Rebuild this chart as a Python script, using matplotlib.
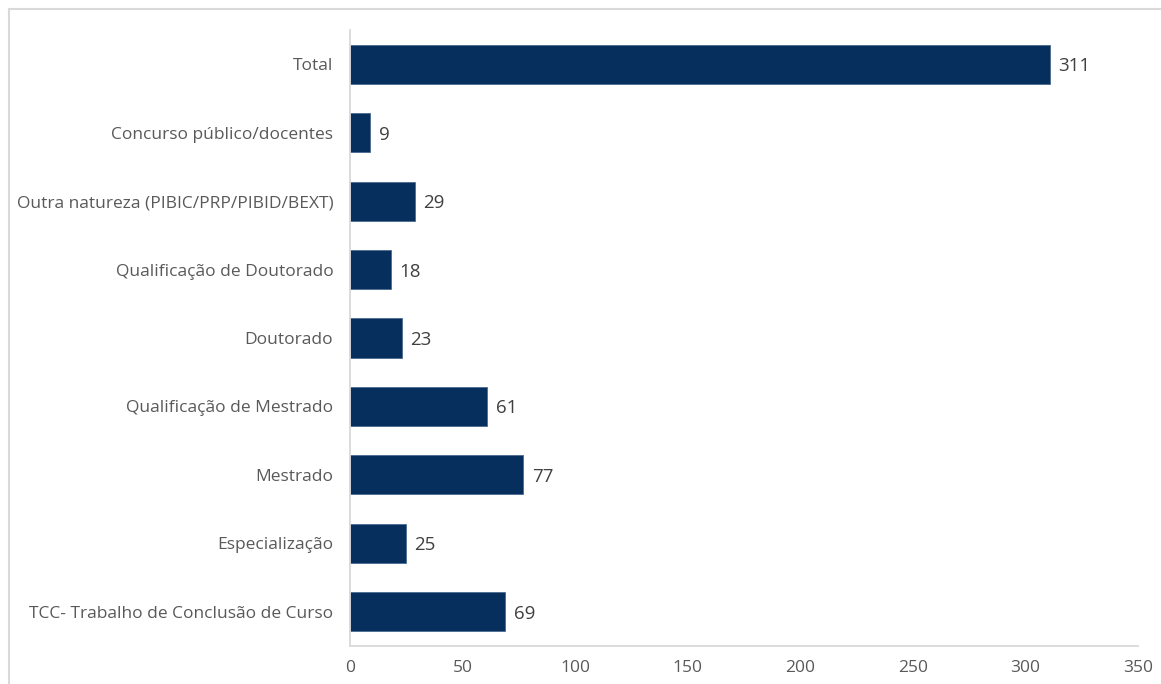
import matplotlib
matplotlib.use("Agg")
import matplotlib.pyplot as plt
from matplotlib.lines import Line2D

categories = [
    "Total",
    "Concurso público/docentes",
    "Outra natureza (PIBIC/PRP/PIBID/BEXT)",
    "Qualificação de Doutorado",
    "Doutorado",
    "Qualificação de Mestrado",
    "Mestrado",
    "Especialização",
    "TCC- Trabalho de Conclusão de Curso",
]
values = [311, 9, 29, 18, 23, 61, 77, 25, 69]
x_ticks = [0, 50, 100, 150, 200, 250, 300, 350]

BAR = "#062F5E"
AXIS = "#D9D9D9"
TICK_TXT = "#595959"
VAL_TXT = "#404040"

plt.rcParams["font.family"] = ["Open Sans", "DejaVu Sans"]

W, H = 1161, 684
fig = plt.figure(figsize=(W / 100, H / 100), dpi=100)
fig.patch.set_facecolor("white")

left, right, top, bottom = 350, 1138, 30, 646
ax = fig.add_axes([left / W, 1 - bottom / H, (right - left) / W, (bottom - top) / H])

pos = list(range(len(categories)))
ax.barh(pos, values, height=0.57, color=BAR, edgecolor="#4A6A90", linewidth=0.6)
ax.set_yticks(pos)
ax.set_yticklabels(categories)
ax.set_ylim(len(categories) - 0.5, -0.5)
ax.set_xlim(0, 350)
ax.set_xticks(x_ticks)

for p, v in zip(pos, values):
    ax.annotate(str(v), (v, p), xytext=(6, 0), textcoords="offset points",
                ha="left", va="center_baseline", fontsize=13.5, color=VAL_TXT)

for s in ["top", "right"]:
    ax.spines[s].set_visible(False)
for s in ["left", "bottom"]:
    ax.spines[s].set_color(AXIS)
    ax.spines[s].set_linewidth(1.3)

ax.tick_params(axis="y", length=0, pad=12, labelsize=12.5, labelcolor=TICK_TXT)
ax.tick_params(axis="x", length=0, pad=10, labelsize=12.5, labelcolor=TICK_TXT)

# outer chart frame
fig.add_artist(Line2D([8.5 / W, 8.5 / W], [0, 1 - 9 / H], transform=fig.transFigure,
                      color=AXIS, linewidth=1.5))
fig.add_artist(Line2D([8.5 / W, 1], [1 - 9 / H, 1 - 9 / H], transform=fig.transFigure,
                      color=AXIS, linewidth=1.5))

fig.savefig("out.png", dpi=100, facecolor="white")
